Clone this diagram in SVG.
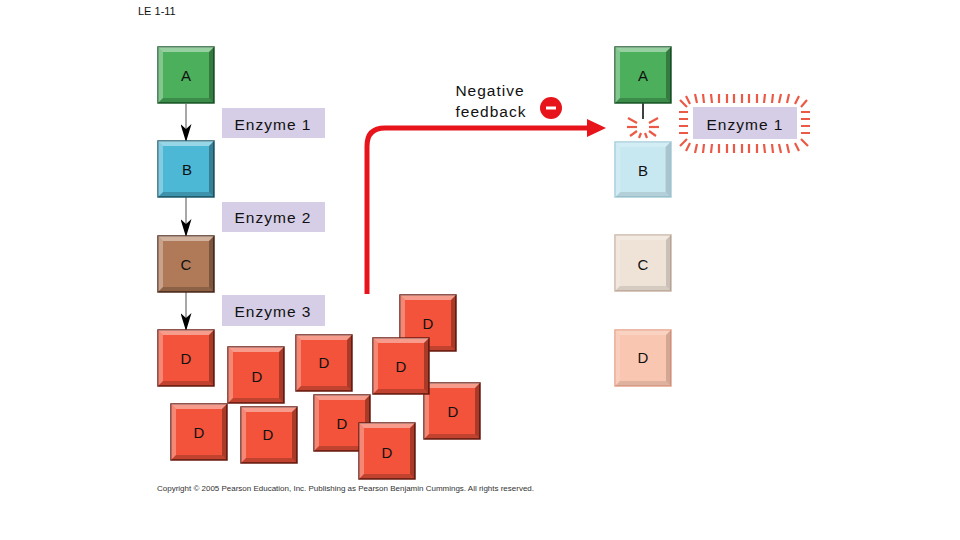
<svg xmlns="http://www.w3.org/2000/svg" xmlns:xlink="http://www.w3.org/1999/xlink" width="960" height="540" viewBox="0 0 960 540">
<style>
text{font-family:"Liberation Sans",Arial,sans-serif;fill:#111}
.lbl{font-size:15px;text-anchor:middle}
.enz{font-size:15.5px;text-anchor:middle;letter-spacing:1px}
.enzbg{fill:#d6cee6}
.bx{stroke-width:1.5}
.gA{fill:#4caf5c;stroke:#1d5e2c}
.gB{fill:#4cb8d6;stroke:#1f5e72}
.gC{fill:#b07a58;stroke:#4e2a1a}
.gD{fill:#f2533a;stroke:#6e1c12}
.lB{fill:#c8e8f1;stroke:#a6cedb}
.lC{fill:#efe3d8;stroke:#cdb7a6}
.lD{fill:#f9c6b2;stroke:#e8a48c}
.conn{stroke:#8a8a8a;stroke-width:1.5;fill:none}
.tick{stroke:#ea5a46;stroke-width:2.2;stroke-linecap:butt;fill:none}
.fb{stroke:#e8141c;stroke-width:5;fill:none}
</style>
<defs>
<symbol id="bevel" viewBox="0 0 56 56">
<polygon points="0,0 56,0 51,5 5,5" fill="#fff" fill-opacity="0.42"/>
<polygon points="0,0 5,5 5,51 0,56" fill="#fff" fill-opacity="0.3"/>
<polygon points="0,56 5,51 51,51 56,56" fill="#000" fill-opacity="0.2"/>
<polygon points="56,0 56,56 51,51 51,5" fill="#000" fill-opacity="0.3"/>
</symbol>
<marker id="ah" viewBox="0 0 18 11" refX="17" refY="5.5" markerWidth="18" markerHeight="11" markerUnits="userSpaceOnUse" orient="auto">
<path d="M0,0 L18,5.5 L0,11 L5,5.5 z" fill="#000"/>
</marker>
</defs>
<rect width="960" height="540" fill="#fff"/>
<text x="138" y="15" style="font-size:11px">LE 1-11</text>

<g id="connectors">
<line class="conn" x1="186" y1="104" x2="186" y2="141" marker-end="url(#ah)"/>
<line class="conn" x1="186" y1="197" x2="186" y2="236" marker-end="url(#ah)"/>
<line class="conn" x1="186" y1="292" x2="186" y2="330" marker-end="url(#ah)"/>
<line x1="643" y1="103" x2="643" y2="119" stroke="#000" stroke-width="1.5"/>
<path class="fb" d="M367,294 V146 Q367,128 385,128 H590"/>
<polygon points="587,119 606,128 587,137" fill="#e8141c"/>
</g>

<g id="enzyme1"><rect class="enzbg" x="222" y="108" width="103" height="30"/><text class="enz" x="273" y="130">Enzyme 1</text></g>
<g id="enzyme2"><rect class="enzbg" x="222" y="202" width="103" height="30"/><text class="enz" x="273" y="223">Enzyme 2</text></g>
<g id="enzyme3"><rect class="enzbg" x="222" y="295" width="103" height="31"/><text class="enz" x="273" y="317">Enzyme 3</text></g>

<g id="A1"><rect class="bx gA" x="158" y="47" width="56" height="56"/><use href="#bevel" x="158" y="47" width="56" height="56"/><text class="lbl" x="186" y="81">A</text></g>
<g id="B1"><rect class="bx gB" x="158" y="141" width="56" height="56"/><use href="#bevel" x="158" y="141" width="56" height="56"/><text class="lbl" x="187" y="175">B</text></g>
<g id="C1"><rect class="bx gC" x="158" y="236" width="56" height="56"/><use href="#bevel" x="158" y="236" width="56" height="56"/><text class="lbl" x="186" y="270">C</text></g>

<g id="D_top"><rect class="bx gD" x="400" y="295" width="56" height="56"/><use href="#bevel" x="400" y="295" width="56" height="56"/><text class="lbl" x="428" y="329">D</text></g>
<g id="D_right"><rect class="bx gD" x="424" y="383" width="56" height="56"/><use href="#bevel" x="424" y="383" width="56" height="56"/><text class="lbl" x="453" y="417">D</text></g>
<g id="D_mid"><rect class="bx gD" x="373" y="338" width="56" height="56"/><use href="#bevel" x="373" y="338" width="56" height="56"/><text class="lbl" x="401" y="372">D</text></g>
<g id="D3"><rect class="bx gD" x="296" y="335" width="56" height="56"/><use href="#bevel" x="296" y="335" width="56" height="56"/><text class="lbl" x="324" y="368">D</text></g>
<g id="D_low1"><rect class="bx gD" x="314" y="395" width="56" height="56"/><use href="#bevel" x="314" y="395" width="56" height="56"/><text class="lbl" x="342" y="429">D</text></g>
<g id="D_low2"><rect class="bx gD" x="359" y="423" width="56" height="56"/><use href="#bevel" x="359" y="423" width="56" height="56"/><text class="lbl" x="387" y="458">D</text></g>
<g id="D1"><rect class="bx gD" x="158" y="330" width="56" height="56"/><use href="#bevel" x="158" y="330" width="56" height="56"/><text class="lbl" x="186" y="364">D</text></g>
<g id="D2"><rect class="bx gD" x="228" y="347" width="56" height="56"/><use href="#bevel" x="228" y="347" width="56" height="56"/><text class="lbl" x="257" y="382">D</text></g>
<g id="D_bl"><rect class="bx gD" x="171" y="404" width="56" height="56"/><use href="#bevel" x="171" y="404" width="56" height="56"/><text class="lbl" x="199" y="438">D</text></g>
<g id="D_b2"><rect class="bx gD" x="241" y="407" width="56" height="56"/><use href="#bevel" x="241" y="407" width="56" height="56"/><text class="lbl" x="268" y="440">D</text></g>

<g id="feedback_label">
<text class="enz" x="490" y="96">Negative</text>
<text class="enz" x="491" y="117">feedback</text>
<circle cx="551" cy="108" r="11" fill="#e8141c"/>
<rect x="546" y="106.5" width="10" height="3" fill="#fff"/>
</g>

<g id="A2"><rect class="bx gA" x="615" y="47" width="56" height="56"/><use href="#bevel" x="615" y="47" width="56" height="56"/><text class="lbl" x="643" y="81">A</text></g>
<g id="inhibit">
<line class="tick" x1="637" y1="123" x2="628" y2="118"/>
<line class="tick" x1="637" y1="127" x2="627" y2="127"/>
<line class="tick" x1="637" y1="131" x2="630" y2="136"/>
<line class="tick" x1="649" y1="123" x2="658" y2="118"/>
<line class="tick" x1="649" y1="127" x2="659" y2="127"/>
<line class="tick" x1="649" y1="131" x2="656" y2="136"/>
<line class="tick" x1="641" y1="133" x2="639" y2="138"/>
<line class="tick" x1="645" y1="133" x2="647" y2="138"/>
</g>
<g id="B2"><rect class="bx lB" x="615" y="142" width="56" height="55"/><use href="#bevel" x="615" y="142" width="56" height="55" opacity="0.5"/><text class="lbl" x="643" y="176">B</text></g>
<g id="C2"><rect class="bx lC" x="615" y="235" width="56" height="56"/><use href="#bevel" x="615" y="235" width="56" height="56" opacity="0.5"/><text class="lbl" x="643" y="270">C</text></g>
<g id="D4"><rect class="bx lD" x="615" y="330" width="56" height="56"/><use href="#bevel" x="615" y="330" width="56" height="56" opacity="0.5"/><text class="lbl" x="643" y="363">D</text></g>

<g id="enzyme1_inhibited">
<path class="tick" d="M690,104 L686,96 M697,103 L695,94 M704,103 L703,94 M712,103 L711,94 M719,103 L719,94 M727,103 L727,94 M734,103 L734,94 M742,103 L742,94 M749,103 L749,94 M757,103 L757,94 M764,103 L765,94 M772,103 L773,94 M779,103 L781,94 M787,103 L789,94 M795,104 L799,96 M801,107 L807,100"/>
<path class="tick" d="M687,107 L680,100 M679,112 L688,112 M679,119 L688,119 M679,126 L688,126 M679,133 L688,133 M687,139 L680,146"/>
<path class="tick" d="M801,112 L810,112 M801,119 L810,119 M801,126 L810,126 M801,133 L810,133 M801,139 L808,146"/>
<path class="tick" d="M690,143 L686,151 M697,144 L695,153 M704,144 L703,153 M712,144 L711,153 M719,144 L719,153 M727,144 L727,153 M734,144 L734,153 M742,144 L742,153 M749,144 L749,153 M757,144 L757,153 M764,144 L765,153 M772,144 L773,153 M779,144 L781,153 M787,144 L789,153 M795,143 L799,151"/>
<rect class="enzbg" x="693" y="107" width="104" height="32"/>
<text class="enz" x="745" y="130">Enzyme 1</text>
</g>

<text x="157" y="491" style="font-size:7.5px;fill:#333" textLength="377" lengthAdjust="spacingAndGlyphs">Copyright © 2005 Pearson Education, Inc. Publishing as Pearson Benjamin Cummings. All rights reserved.</text>
</svg>
